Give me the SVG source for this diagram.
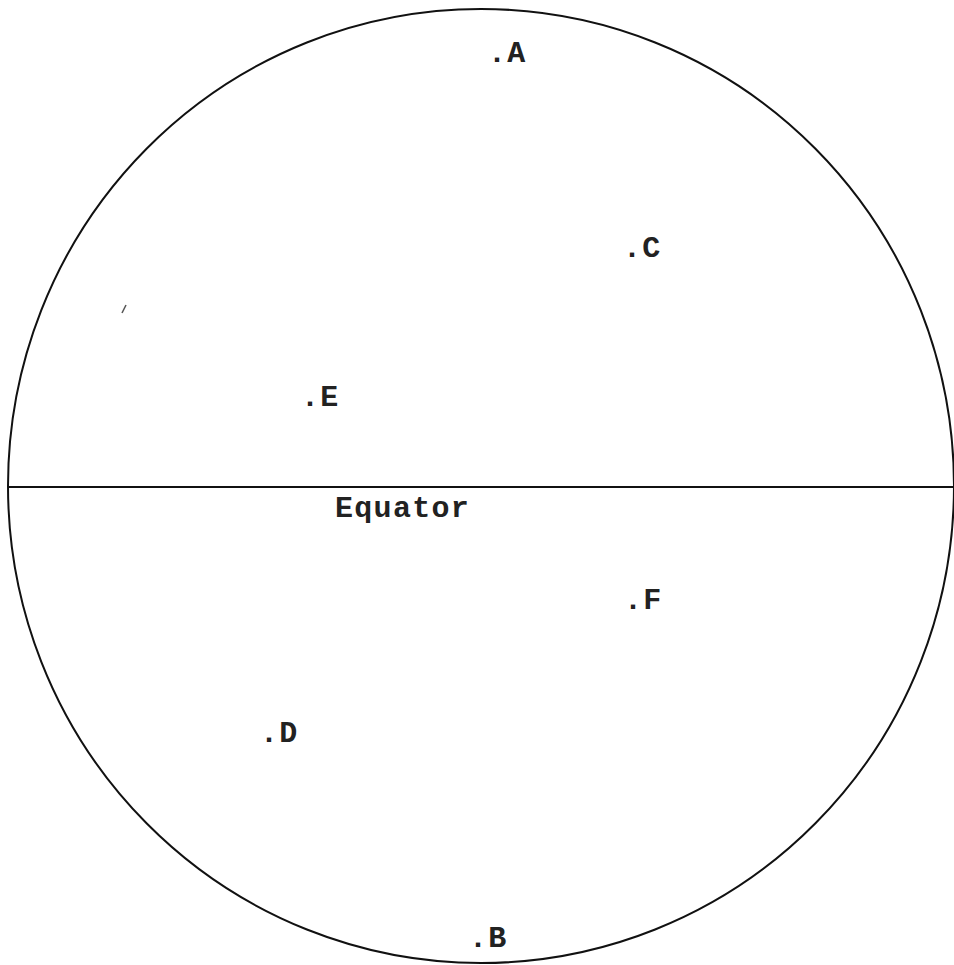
<svg xmlns="http://www.w3.org/2000/svg" width="954" height="965" viewBox="0 0 954 965">
<style>
.lbl{font-family:"Liberation Mono","Courier New",monospace;font-size:30px;font-weight:bold;fill:#222;letter-spacing:1.3px}
.ln{fill:none;stroke:#111;stroke-width:2}
</style>
<rect width="954" height="965" fill="#fff"/>
<g id="globe">
<ellipse class="ln" cx="481" cy="486" rx="473" ry="477"/>
</g>
<g id="connectors">
<line class="ln" x1="8" y1="487" x2="954" y2="487"/>
</g>
<g id="equator"><text class="lbl" x="335" y="517">Equator</text></g>
<g id="A"><text class="lbl" x="488" y="62">.A</text></g>
<g id="C"><text class="lbl" x="623" y="257">.C</text></g>
<g id="E"><text class="lbl" x="301" y="406">.E</text></g>
<g id="F"><text class="lbl" x="624" y="609">.F</text></g>
<g id="D"><text class="lbl" x="260" y="742">.D</text></g>
<g id="B"><text class="lbl" x="469" y="947">.B</text></g>
<path d="M122 313 L126 305" stroke="#555" stroke-width="1.5" fill="none"/>
</svg>
